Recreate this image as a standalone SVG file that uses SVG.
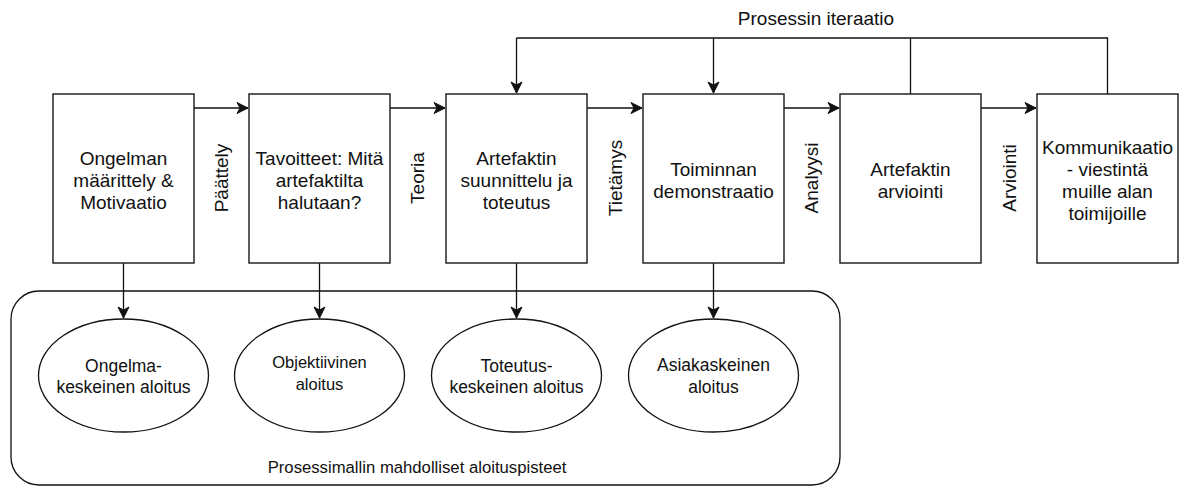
<svg xmlns="http://www.w3.org/2000/svg" width="1182" height="486" viewBox="0 0 1182 486">
<style>
.box{fill:#fff;stroke:#262626;stroke-width:1.5}
.ell{fill:#fff;stroke:#111;stroke-width:1.3}
.cont{fill:none;stroke:#111;stroke-width:1.3}
.ln{fill:none;stroke:#111;stroke-width:1.3}
.arr{fill:none;stroke:#111;stroke-width:1.3;marker-end:url(#ah)}
text{font-family:"Liberation Sans",Arial,sans-serif;fill:#111;text-anchor:middle}
.bt{font-size:19px}
.et{font-size:17.5px}
.lt{font-size:19px}
</style>
<defs>
<marker id="ah" markerUnits="userSpaceOnUse" markerWidth="14" markerHeight="14" viewBox="-12 -7 14 14" refX="0" refY="0" orient="auto">
<path d="M0 0 L-11 -5.5 L-8 0 L-11 5.5 Z" fill="#111" stroke="#111" stroke-width="1"/>
</marker>
</defs>
<rect width="1182" height="486" fill="#fff"/>
<g id="container">
<rect class="cont" x="11" y="291" width="829" height="194" rx="28" ry="28"/>
<text x="417" y="473" style="font-size:16.7px">Prosessimallin mahdolliset aloituspisteet</text>
</g>
<g id="connectors">
<line class="arr" x1="193" y1="108" x2="248" y2="108"/>
<line class="arr" x1="390" y1="108" x2="445" y2="108"/>
<line class="arr" x1="587" y1="108" x2="642" y2="108"/>
<line class="arr" x1="784" y1="108" x2="839" y2="108"/>
<line class="arr" x1="981" y1="108" x2="1036" y2="108"/>
<path class="ln" d="M910.5 94 V38 M1107.5 94 V38 H516.5"/>
<line class="arr" x1="516.5" y1="38" x2="516.5" y2="93"/>
<line class="arr" x1="713.5" y1="38" x2="713.5" y2="93"/>
<line class="arr" x1="123.5" y1="263" x2="123.5" y2="318"/>
<line class="arr" x1="319.5" y1="263" x2="319.5" y2="318"/>
<line class="arr" x1="516.5" y1="263" x2="516.5" y2="318"/>
<line class="arr" x1="713.5" y1="263" x2="713.5" y2="318"/>
<text class="lt" x="816" y="25">Prosessin iteraatio</text>
<text class="lt" transform="translate(228,178) rotate(-90)">Päättely</text>
<text class="lt" transform="translate(424,178) rotate(-90)">Teoria</text>
<text class="lt" transform="translate(622,178) rotate(-90)">Tietämys</text>
<text class="lt" transform="translate(818,178) rotate(-90)">Analyysi</text>
<text class="lt" transform="translate(1016,178) rotate(-90)">Arviointi</text>
</g>
<g id="n1">
<rect class="box" x="53" y="94" width="141" height="169"/>
<text class="bt" x="123.5" y="164.7">Ongelman</text>
<text class="bt" x="123.5" y="186.7">määrittely &amp;</text>
<text class="bt" x="123.5" y="208.7">Motivaatio</text>
</g>
<g id="n2">
<rect class="box" x="249" y="94" width="141" height="169"/>
<text class="bt" x="319.5" y="164.7">Tavoitteet: Mitä</text>
<text class="bt" x="319.5" y="186.7">artefaktilta</text>
<text class="bt" x="319.5" y="208.7">halutaan?</text>
</g>
<g id="n3">
<rect class="box" x="446" y="94" width="141" height="169"/>
<text class="bt" x="516.5" y="164.7">Artefaktin</text>
<text class="bt" x="516.5" y="186.7">suunnittelu ja</text>
<text class="bt" x="516.5" y="208.7">toteutus</text>
</g>
<g id="n4">
<rect class="box" x="643" y="94" width="141" height="169"/>
<text class="bt" x="713.5" y="175.7">Toiminnan</text>
<text class="bt" x="713.5" y="197.7">demonstraatio</text>
</g>
<g id="n5">
<rect class="box" x="840" y="94" width="141" height="169"/>
<text class="bt" x="910.5" y="175.7">Artefaktin</text>
<text class="bt" x="910.5" y="197.7">arviointi</text>
</g>
<g id="n6">
<rect class="box" x="1037" y="94" width="141" height="169"/>
<text class="bt" x="1107.5" y="153.7">Kommunikaatio</text>
<text class="bt" x="1107.5" y="175.7">- viestintä</text>
<text class="bt" x="1107.5" y="197.7">muille alan</text>
<text class="bt" x="1107.5" y="219.7">toimijoille</text>
</g>
<g id="e1">
<ellipse class="ell" cx="123.5" cy="375.5" rx="85" ry="56.5"/>
<text class="et" x="123.5" y="371.5">Ongelma-</text>
<text class="et" x="123.5" y="393">keskeinen aloitus</text>
</g>
<g id="e2">
<ellipse class="ell" cx="319.5" cy="375.5" rx="85" ry="56.5"/>
<text class="et" x="319.5" y="368" style="font-size:16.5px">Objektiivinen</text>
<text class="et" x="319.5" y="390" style="font-size:16.5px">aloitus</text>
</g>
<g id="e3">
<ellipse class="ell" cx="516.5" cy="375.5" rx="85" ry="56.5"/>
<text class="et" x="516.5" y="371.5">Toteutus-</text>
<text class="et" x="516.5" y="393">keskeinen aloitus</text>
</g>
<g id="e4">
<ellipse class="ell" cx="713.5" cy="375.5" rx="85" ry="56.5"/>
<text class="et" x="713.5" y="371">Asiakaskeinen</text>
<text class="et" x="713.5" y="392.5">aloitus</text>
</g>
</svg>
